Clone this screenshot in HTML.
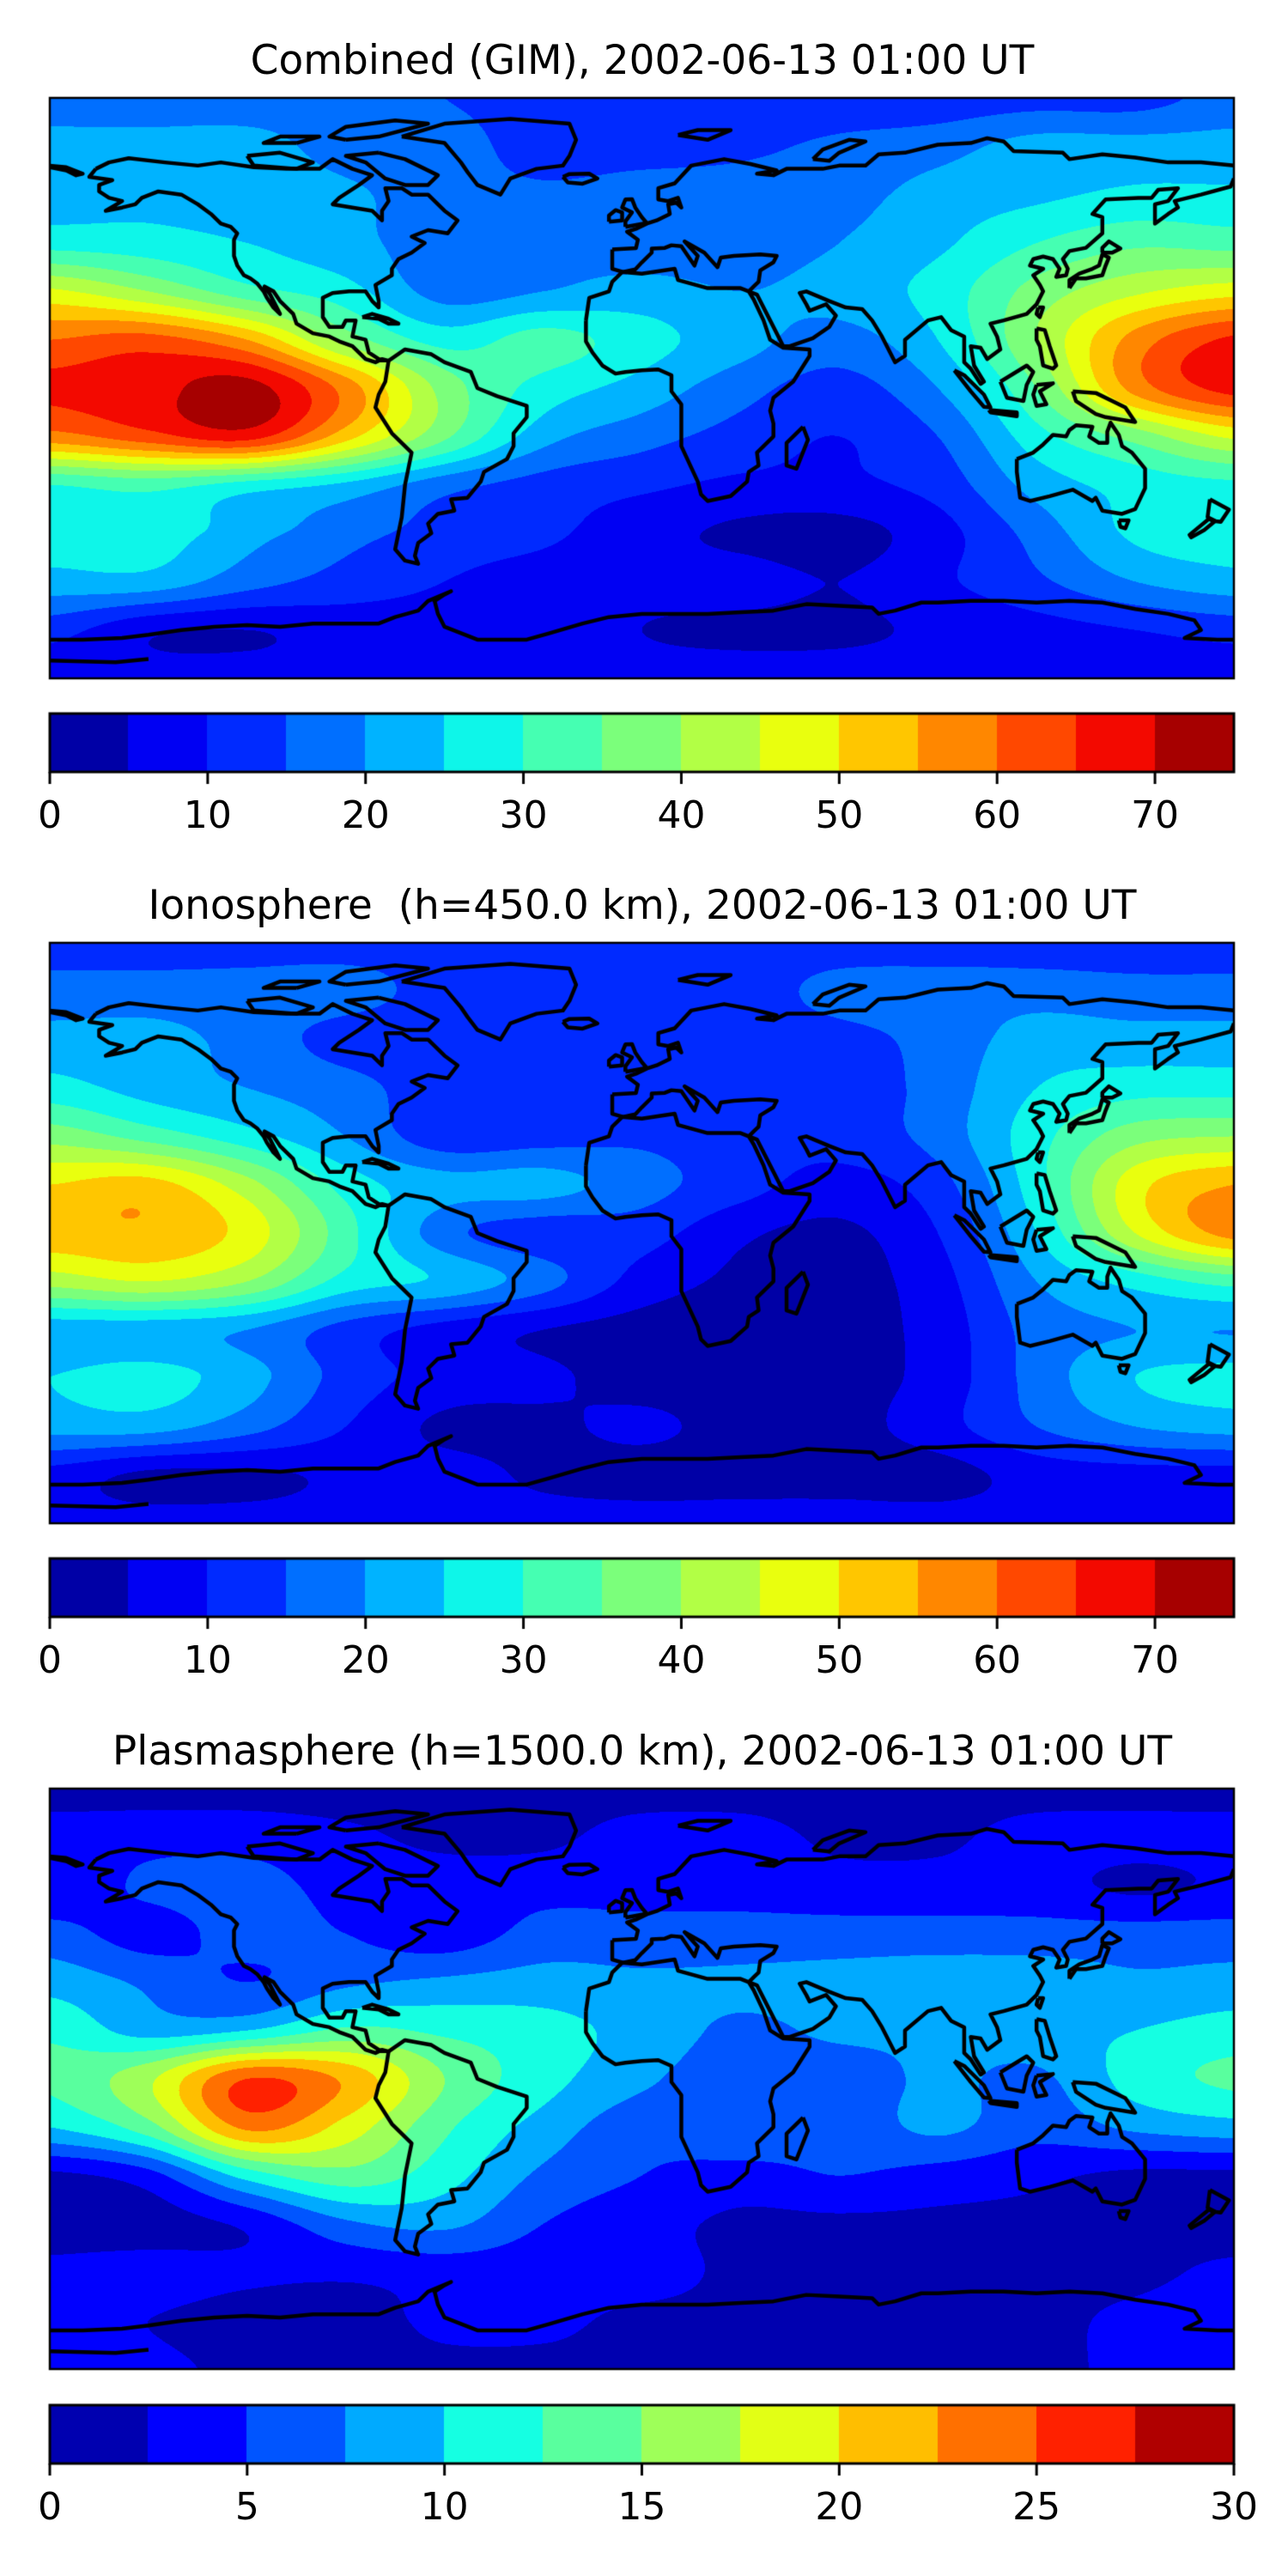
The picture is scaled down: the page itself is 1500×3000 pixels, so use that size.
<!DOCTYPE html>
<html><head><meta charset="utf-8">
<style>
html,body{margin:0;padding:0;background:#fff;}
body{width:1500px;height:3000px;position:relative;overflow:hidden;font-family:"DejaVu Sans","Liberation Sans",sans-serif;}
.title{position:absolute;left:0;width:1496px;text-align:center;font-size:47px;line-height:1;color:#000;white-space:pre;}
canvas{position:absolute;left:0;top:0;}
.tick{position:absolute;font-size:44px;line-height:1;transform:translateX(-50%);color:#000;}
</style></head>
<body>
<div class="title" style="top:47px">Combined (GIM), 2002-06-13 01:00 UT</div>
<div class="title" style="top:1031px">Ionosphere  (h=450.0 km), 2002-06-13 01:00 UT</div>
<div class="title" style="top:2016px">Plasmasphere (h=1500.0 km), 2002-06-13 01:00 UT</div>
<canvas id="cv" width="1500" height="3000"></canvas>
<div id="ticks"></div>
<script>
// ---- data ----
const lonCols=[-180,-150,-120,-90,-60,-30,0,30,60,90,120,150,180];
const latRows=[90,75,60,45,30,15,0,-15,-30,-45,-60,-75,-90];
const gimGrid=[
[17,17,17,17,15,13,12,12,12,12,13,13,17],
[22,22,22,18,17,13,13,14,16,18,22,22,22],
[23,24,23,21,17,16,17,17,18,22,24,26,26],
[28,27,25,22,17,19,17,17,20,24,30,34,33],
[46,40,32,27,18,20,22,20,22,27,37,44,48],
[60,62,55,38,28,32,27,22,18,25,40,57,66],
[66,68,72,58,38,28,23,17,13,20,35,57,67],
[58,63,67,52,36,22,17,13,10,15,28,37,46],
[30,32,28,24,17,13,11,9,9,12,22,27,29],
[28,28,22,17,13,11,7,4,3,8,17,26,28],
[23,23,17,13,10,8,7,7,5,9,14,20,23],
[12,6,5,7,8,8,5,4,4,6,8,10,12],
[7,7,7,7,7,7,7,7,7,7,7,7,7]];
const ionoGrid=[
[13,13,13,13,13,12,12,12,12,12,12,12,12],
[17,17,17,17,13,12,12,12,17,18,18,17,17],
[22,22,18,13,12,12,12,12,13,17,22,22,22],
[27,23,20,17,12,12,12,12,12,17,25,28,28],
[38,33,27,20,12,13,14,12,12,17,28,38,40],
[50,52,42,28,22,22,17,12,8,13,28,48,55],
[53,54,48,32,17,12,12,6,4,10,25,45,57],
[42,45,40,28,24,17,8,4,3,8,20,27,32],
[22,22,20,13,8,5,3,3,3,7,17,20,20],
[25,27,22,13,8,6,3,3,3,7,17,25,27],
[22,22,17,10,4,4,6,3,3,8,15,20,22],
[8,4,4,6,7,4,3,3,3,3,7,8,8],
[7,7,7,7,7,7,7,7,7,7,7,7,7]];
const plasmaGrid=[
[1.5,1.5,1.5,1.5,1.5,1.5,1.5,1.5,1.5,1.5,1.5,1.5,1.5],
[3.5,4,4,3,2,2,3.5,3.5,2,2,3.5,3.5,3.5],
[3,5.5,6,4,3.5,4,4,4,3.5,3.5,3.5,2,3],
[6,4,6,5,3.5,6,6,6,6,6,6,6,6],
[9,7,5,7,8,8.5,8,8,8.5,9,9,8,8.5],
[12,9,10,13,12,11,9,7,8,8,9,10,11],
[13,17,25,22,15,11,8,6,6,8,7,11,13],
[10,14,23,19,13,9,6,7,6,8,6,8,9],
[2,4,11,14,11,7,5,4,5,4,3,2,2],
[1.5,1.5,3,7,8,5,3.5,2,2,2,2,2,1.5],
[3,3.5,3,3,3.5,3.5,3.5,2,2,2,2,2,3],
[3,2.5,1.5,1.5,3,3,2,2,2,2,2,3,4],
[3,3,2,2,2,2,2,2,2,2,2,3,3.5]];
const tecTicks=[0,10,20,30,40,50,60,70];
const plasmaTicks=[0,5,10,15,20,25,30];
// coastlines [lon,lat]
const coasts=[
[[-166,68],[-162,70],[-156,71.3],[-145,70],[-135,69],[-128,70],[-118,68.5],[-108,68],[-98,68],[-94,71],[-88,68],[-82,66],[-86,63],[-92,59],[-94,57],[-88,56],[-82,55],[-79,52],[-79,55],[-77,58],[-78,62],[-73,62],[-70,60],[-65,60],[-62,57],[-60,55],[-56,52],[-59,48],[-65,49],[-70,47],[-66,45],[-70,42],[-74,40],[-76,37],[-76,35],[-81,32],[-80,27],[-80,25],[-82,27],[-84,30],[-89,30],[-94,29.5],[-97,28],[-97,22],[-95,19],[-91,19],[-90,21],[-87,21],[-88,16],[-84,15],[-83,11],[-80,9],[-77,8.5],[-79,9],[-81,8],[-84,9],[-86,11],[-88,13],[-92,14.5],[-95,16],[-100,17],[-105,20],[-106,23],[-110,27],[-112,30],[-114.7,31.5],[-113,29],[-110,23],[-112,25],[-114,28],[-115,30],[-117,32.5],[-119,34],[-121,35],[-123,38],[-124,41],[-124,46],[-123,48],[-125,50],[-128,51],[-131,54],[-135,57],[-140,60],[-147,61],[-152,59],[-154,57],[-158,56],[-163,55],[-158,58],[-162,59],[-165,61],[-165,63],[-161,64.5],[-168,65.5],[-166,68]],
[[-73,78],[-60,82],[-40,83.5],[-22,82],[-20,77],[-22,72],[-24,69],[-32,68],[-40,65],[-43,60],[-50,63],[-53,67],[-55,70],[-60,76],[-73,78]],
[[-80,73],[-72,71],[-66,68],[-62,66],[-65,63],[-72,63],[-78,65],[-84,70],[-90,72],[-80,73]],
[[-120,72],[-110,73],[-100,70],[-105,68],[-118,69],[-120,72]],
[[-90,77],[-80,78],[-65,82],[-75,83],[-90,81],[-95,78],[-90,77]],
[[-105,76],[-98,78],[-110,78],[-115,76],[-105,76]],
[[-77,8.5],[-72,12],[-64,10.5],[-60,8],[-52,5],[-50,0],[-44,-2.5],[-35,-5.5],[-35,-9],[-39,-14],[-39,-18],[-41,-22],[-48,-26],[-49,-29],[-53,-34],[-58,-34.5],[-57,-38],[-62,-39],[-65,-42],[-64,-45],[-68,-48],[-69,-52],[-68,-54.5],[-72,-53.5],[-75,-50],[-74,-45],[-73,-40],[-72,-30],[-70,-20],[-76,-14],[-81,-6],[-80,-2],[-78,2],[-77,8.5]],
[[-17,21],[-16,28],[-10,30],[-9,33],[-6,36],[0,35.5],[10,37],[11,33.5],[20,31],[30,31],[32.5,30],[34,27.5],[37,21],[39,15],[43,12.5],[51,12],[51,10],[46,2],[40,-3],[39,-7],[40,-11],[40,-15],[35,-20],[35.5,-24],[32.5,-26],[32,-29],[27,-33.5],[20,-35],[18,-33],[17,-29],[12,-18],[12,-5],[9,-1],[9,4],[5,5.8],[0,5.5],[-5,5],[-8,4.5],[-12,7],[-15,11],[-17,14.5],[-17,21]],
[[49,-12],[50.5,-16],[47,-25],[44,-24],[44,-17],[49,-12]],
[[-9,43],[-9,37],[-5.6,36],[-2,36.8],[0,39],[3,42],[3,43.3],[7,43.5],[9,44.3],[12,44],[14,41],[16,38],[17,41],[13,45.5],[19,42],[23,37.5],[24,40.5],[28,41],[36,41.5],[41,41],[40,39],[36,36.5],[35.5,33],[34,31.5],[32.5,30],[35,29],[39,21],[43,13],[45,13],[52,15.5],[57,19],[59,22.5],[56,26],[51,24],[50,26],[48,29.5],[50,30],[57,27],[62,25],[67,24.5],[70,21],[73,16],[77,8],[80,10],[80,15],[87,21],[91,22],[94,18],[98,16],[98,8],[100,6],[103,1.3],[104,2],[101,7],[100,13],[103,12.5],[105,9],[109,12],[108,16],[106,20],[110,21],[117,23],[120,26],[122,30],[121,32],[119,35],[122,37],[118,38],[119,40],[122,40.8],[125,40],[127,37],[126,34.5],[129,35],[129.5,37],[128,40],[130,42.5],[135,43.5],[140,48],[140,53],[137,54],[141,58.5],[151,59],[155,59],[157,61.5],[163,62],[160,58],[156,57],[156,51],[160,54],[163,56],[162,58],[170,60],[179,62.5],[180,65]],
[[180,69],[170,70],[160,70],[150,71.5],[140,72.5],[130,71],[128,73],[113,73.5],[110,76.5],[105,77.5],[100,76],[90,75.5],[80,73],[72,72.5],[68,69],[60,69],[55,68],[44,68],[40,66],[35,66.5],[41,67.5],[33,69.5],[25,71],[15,69],[10,63.5],[5,62],[5,58.5],[8,58],[11,59],[12,56],[10.5,57.5],[8,57],[8.5,54],[4.5,52],[1.5,51],[-1.5,49.5],[-4.5,48.5],[-1.2,46],[-1.8,43.4],[-9,43]],
[[-180,68.5],[-175,67.5],[-172,66],[-170,66.5],[-175,68.5],[-180,69]],
[[-5,50],[1.5,51.2],[0,53],[-2,56],[-3,58.6],[-5,58.5],[-6,56],[-3,54.5],[-5,51.7],[-5,50]],
[[-10,51.6],[-6,52],[-6,54.5],[-8,55.2],[-10,53.5],[-10,51.6]],
[[-24,65.5],[-22,66.4],[-16,66.5],[-13.5,65],[-18,63.4],[-22.5,63.8],[-24,65.5]],
[[-85,22],[-82,23],[-77,21.5],[-74,20],[-77,20],[-80,21.5],[-85,22]],
[[52,71],[57,70.5],[60,73],[68,76.5],[63,77],[55,74],[52,71]],
[[11,78.5],[17,80],[27,80],[20,77],[11,78.5]],
[[130,31],[132,34],[135,34],[140,35],[141,38],[142,40.5],[140,41.5],[139,38],[137,37],[133,35.5],[130,33.5],[130,31]],
[[140,42],[143,42],[145.5,43.3],[142,45.5],[140,43.5],[140,42]],
[[95,5.5],[98,4],[104,-2],[106,-6],[104,-5.8],[100,-1],[95,5.5]],
[[109,2],[117,7],[119,5],[117,1],[116,-4],[111,-3],[109,2]],
[[105.5,-6.8],[114,-7.5],[114,-8.7],[106,-7.5],[105.5,-6.8]],
[[120,1],[125,1.5],[121,-1],[123,-5],[120,-5.5],[119,-2],[120,1]],
[[131,-1],[138,-1.5],[147,-6],[150,-10.5],[141,-9],[138,-8],[132,-4],[131,-1]],
[[120,18.5],[122.5,18],[124,13],[126,7],[125,6],[122,7],[121,13],[120,15],[120,18.5]],
[[120.5,25],[122,25],[121,22],[120,23],[120.5,25]],
[[114,-22],[114,-26],[115,-34],[118,-35],[124,-33.5],[131,-31.5],[137,-35],[138,-34],[140,-38],[146,-39],[150,-37.5],[153,-31],[153,-25],[149,-20],[146,-18],[145,-14.5],[142.5,-10.7],[141.5,-13.5],[141.5,-17],[139,-17],[136,-15],[137,-12],[132,-11.5],[130,-13],[129,-15],[125,-14.5],[122,-17.5],[119,-20],[114,-22]],
[[145,-41],[148,-41],[147,-43.5],[145.5,-43],[145,-41]],
[[172.7,-34.5],[178.5,-37.7],[176,-41.5],[174.5,-41.3],[172,-40],[172.7,-34.5]],
[[172.5,-40.5],[174,-41.5],[171,-44],[167,-46.3],[166.5,-45.5],[172.5,-40.5]],
[[-180,-78],[-170,-78],[-158,-77.5],[-150,-76.5],[-140,-75],[-130,-74],[-120,-73.5],[-110,-74],[-100,-73],[-90,-73],[-80,-73],[-75,-71],[-68,-69],[-65,-66],[-58,-63],[-60,-64],[-63,-66],[-62,-70],[-60,-74],[-50,-78],[-35,-78],[-28,-76],[-18,-73],[-10,-71],[0,-70],[10,-70],[20,-70],[30,-69.5],[40,-69],[50,-67],[60,-67.5],[70,-68],[72,-70],[77,-69],[85,-66.5],[90,-66.5],[100,-66],[110,-66],[120,-66.5],[130,-66],[140,-66.5],[150,-68.5],[160,-70],[168,-72],[170,-75],[165,-77.5],[175,-78],[180,-78]],
[[-180,-84.5],[-160,-85],[-150,-84]]
];
// ---- layout ----
const MX=58, MW=1379, MH=676;
const panels=[
 {grid:gimGrid, top:114, cbTop:831, vmax:75, step:5, ticks:tecTicks},
 {grid:ionoGrid, top:1098, cbTop:1815, vmax:75, step:5, ticks:tecTicks},
 {grid:plasmaGrid, top:2083, cbTop:2801, vmax:30, step:2.5, ticks:plasmaTicks}
];
const CBH=68;
function lin(t,p){for(let i=1;i<p.length;i++){if(t<=p[i][0]){const a=p[i-1],b=p[i];return a[1]+(b[1]-a[1])*(t-a[0])/(b[0]-a[0]);}}return p[p.length-1][1];}
function jet(t){
 const r=lin(t,[[0,0],[0.35,0],[0.66,1],[0.89,1],[1,0.5]]);
 const g=lin(t,[[0,0],[0.125,0],[0.375,1],[0.64,1],[0.91,0],[1,0]]);
 const b=lin(t,[[0,0.5],[0.11,1],[0.34,1],[0.65,0],[1,0]]);
 return [Math.round(r*255),Math.round(g*255),Math.round(b*255)];
}
function cr(p0,p1,p2,p3,t){return 0.5*((2*p1)+(-p0+p2)*t+(2*p0-5*p1+4*p2-p3)*t*t+(-p0+3*p1-3*p2+p3)*t*t*t);}
function sample(G,fx,fy){
 const nx=G[0].length,ny=G.length;
 const ix=Math.min(Math.floor(fx),nx-2), iy=Math.min(Math.floor(fy),ny-2);
 const tx=fx-ix, ty=fy-iy;
 const row=j=>{j=Math.max(0,Math.min(ny-1,j));const R=G[j];
  const c=i=>R[Math.max(0,Math.min(nx-1,i))];
  return cr(c(ix-1),c(ix),c(ix+1),c(ix+2),tx);};
 return cr(row(iy-1),row(iy),row(iy+1),row(iy+2),ty);
}
const cv=document.getElementById('cv');
const ctx=cv.getContext('2d');
const nx=lonCols.length-1, ny=latRows.length-1;
panels.forEach(P=>{
 const n=Math.round(P.vmax/P.step);
 const cols=[];for(let i=0;i<n;i++)cols.push(jet((i+0.5)/n));
 const img=ctx.createImageData(MW,MH);
 for(let y=0;y<MH;y++){
  const lat=90-180*(y+0.5)/MH;
  const fy=(90-lat)/180*ny;
  for(let x=0;x<MW;x++){
   const lon=-180+360*(x+0.5)/MW;
   const fx=(lon+180)/360*nx;
   let v=sample(P.grid,fx,fy);
   let k=Math.floor(v/P.step);k=Math.max(0,Math.min(n-1,k));
   const c=cols[k],o=(y*MW+x)*4;
   img.data[o]=c[0];img.data[o+1]=c[1];img.data[o+2]=c[2];img.data[o+3]=255;
  }
 }
 ctx.putImageData(img,MX,P.top);
 ctx.save();ctx.beginPath();ctx.rect(MX,P.top,MW,MH);ctx.clip();
 ctx.strokeStyle='#000';ctx.lineWidth=4.5;ctx.lineJoin='round';
 coasts.forEach(poly=>{
  ctx.beginPath();
  poly.forEach((p,i)=>{const X=MX+(p[0]+180)/360*MW, Y=P.top+(90-p[1])/180*MH; if(i)ctx.lineTo(X,Y);else ctx.moveTo(X,Y);});
  ctx.stroke();
 });
 ctx.restore();
 ctx.lineWidth=2.5;ctx.strokeStyle='#000';ctx.strokeRect(MX,P.top,MW,MH);
 for(let i=0;i<n;i++){
  const c=cols[i];ctx.fillStyle='rgb('+c[0]+','+c[1]+','+c[2]+')';
  const x0=MX+MW*i/n, x1=MX+MW*(i+1)/n;
  ctx.fillRect(Math.floor(x0),P.cbTop,Math.ceil(x1)-Math.floor(x0),CBH);
 }
 ctx.lineWidth=3;ctx.strokeRect(MX,P.cbTop,MW,CBH);
 const tk=document.getElementById('ticks');
 P.ticks.forEach(t=>{
  const X=MX+MW*t/P.vmax;
  ctx.fillStyle='#000';ctx.fillRect(X-1.5,P.cbTop+CBH,3,14);
  const d=document.createElement('div');
  d.className='tick';
  
  
  d.style.left=X+'px';d.style.top=(P.cbTop+CBH+29)+'px';
  d.textContent=t;tk.appendChild(d);
 });
});
</script>
</body></html>
